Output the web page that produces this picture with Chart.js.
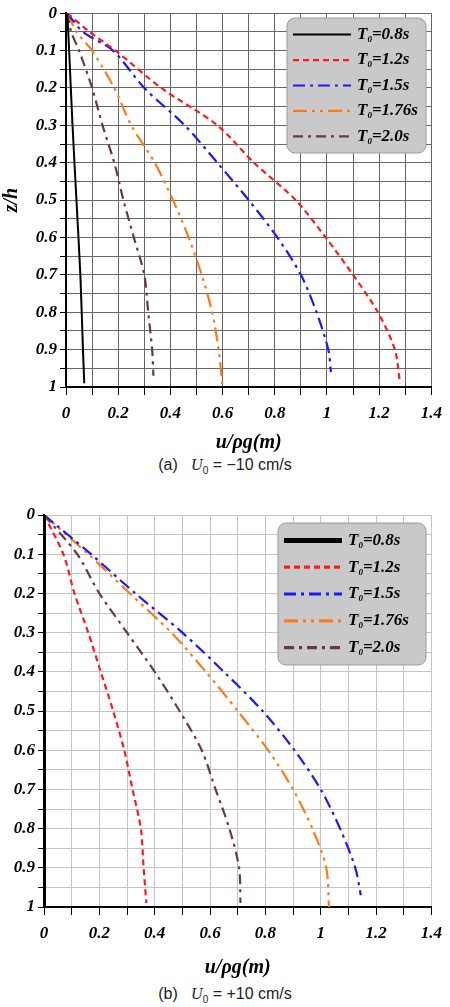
<!DOCTYPE html>
<html>
<head>
<meta charset="utf-8">
<script src="https://cdn.jsdelivr.net/npm/chart.js@4/dist/chart.umd.min.js"></script>
<style>
  body { margin: 0; background: #fff; width: 450px; height: 1007px; position: relative; overflow: hidden; }
  .wrap { position: absolute; left: 0; width: 450px; }
  .cap { position: absolute; left: 0; width: 450px; text-align: center; font: 16px "Liberation Sans", sans-serif; color: #222; }
  .cap i { font-family: "Liberation Serif", serif; }
  .cap sub { font-size: 10px; }
</style>
</head>
<body>
<div class="wrap" style="top:0;height:455px"><canvas id="c1"></canvas></div>
<div class="cap" style="top:456px">(a)&nbsp;&nbsp; <i>U</i><sub>0</sub> = &minus;10 cm/s</div>
<div class="wrap" style="top:490px;height:490px"><canvas id="c2"></canvas></div>
<div class="cap" style="top:985px">(b)&nbsp;&nbsp; <i>U</i><sub>0</sub> = +10 cm/s</div>
<script>
var periods = ["0.8s", "1.2s", "1.5s", "1.76s", "2.0s"];
var colors = ["#000000", "#ff1a1a", "#1a1aff", "#ff7a1a", "#6b3a3a"];
var dashes = [[], [6, 4], [12, 5, 3, 5], [14, 5, 3, 5, 3, 5], [10, 5, 3, 5]];
var xTicks = [0, 0.2, 0.4, 0.6, 0.8, 1, 1.2, 1.4];

// (a) U0 = -10 cm/s : depth z/h and u/rho g for each wave period
var zA = [
  [0, 0.1, 0.3, 0.5, 0.7, 0.9, 0.99],
  [0, 0.05, 0.1, 0.2, 0.3, 0.4, 0.5, 0.6, 0.7, 0.8, 0.9, 0.99],
  [0, 0.05, 0.1, 0.2, 0.3, 0.4, 0.5, 0.6, 0.7, 0.8, 0.9, 0.96],
  [0, 0.05, 0.1, 0.2, 0.3, 0.4, 0.5, 0.6, 0.7, 0.8, 0.9, 1.0],
  [0, 0.05, 0.1, 0.2, 0.3, 0.4, 0.5, 0.6, 0.7, 0.8, 0.9, 0.97]
];
var uA = [
  [0.005, 0.012, 0.025, 0.04, 0.055, 0.065, 0.07],
  [0.005, 0.09, 0.19, 0.365, 0.58, 0.72, 0.88, 0.995, 1.10, 1.195, 1.26, 1.28],
  [0.005, 0.065, 0.18, 0.30, 0.455, 0.58, 0.70, 0.81, 0.90, 0.96, 1.005, 1.015],
  [0.005, 0.04, 0.10, 0.185, 0.25, 0.34, 0.41, 0.47, 0.52, 0.56, 0.585, 0.60],
  [0.005, 0.02, 0.05, 0.10, 0.14, 0.185, 0.22, 0.26, 0.30, 0.315, 0.33, 0.335]
];

// (b) U0 = +10 cm/s
var zB = [
  [0, 1],
  [0, 0.1, 0.2, 0.3, 0.4, 0.5, 0.6, 0.7, 0.8, 0.9, 0.99],
  [0, 0.1, 0.2, 0.3, 0.4, 0.5, 0.6, 0.7, 0.8, 0.9, 0.97],
  [0, 0.1, 0.2, 0.3, 0.4, 0.5, 0.6, 0.7, 0.8, 0.9, 1.0],
  [0, 0.1, 0.2, 0.3, 0.4, 0.5, 0.6, 0.7, 0.8, 0.9, 0.99]
];
var uB = [
  [0, 0],
  [0, 0.07, 0.11, 0.16, 0.205, 0.25, 0.29, 0.32, 0.35, 0.36, 0.37],
  [0, 0.17, 0.33, 0.50, 0.65, 0.79, 0.905, 1.00, 1.07, 1.125, 1.145],
  [0, 0.16, 0.31, 0.46, 0.585, 0.70, 0.81, 0.90, 0.97, 1.02, 1.03],
  [0, 0.12, 0.20, 0.30, 0.40, 0.49, 0.57, 0.62, 0.67, 0.705, 0.71]
];

var serif = "'Liberation Serif', 'DejaVu Serif', serif";
var tickFont = { family: serif, size: 17, weight: "bold", style: "italic" };

function makeSets(zs, us, blackWidth) {
  return periods.map(function (p, i) {
    return {
      label: p,
      data: zs[i].map(function (z, k) { return { x: us[i][k], y: z }; }),
      showLine: true, pointRadius: 0, borderColor: colors[i],
      borderWidth: i === 0 ? blackWidth : 2.2, borderDash: dashes[i],
      tension: 0.3
    };
  });
}

function legendPlugin(box) {
  return {
    id: "boxLegend",
    afterDraw: function (chart) {
      var ctx = chart.ctx;
      ctx.save();
      ctx.fillStyle = "#c9c9c9";
      ctx.strokeStyle = "#9a9a9a";
      ctx.lineWidth = 1;
      ctx.beginPath();
      ctx.roundRect(box.x, box.y, box.w, box.h, 8);
      ctx.fill(); ctx.stroke();
      var step = box.h / 5.3;
      chart.data.datasets.forEach(function (ds, i) {
        var y = box.y + step * (i + 0.65);
        ctx.strokeStyle = ds.borderColor;
        ctx.lineWidth = ds.borderWidth + (box.bold ? 1 : 0);
        ctx.setLineDash(ds.borderDash);
        ctx.beginPath();
        ctx.moveTo(box.x + 6, y); ctx.lineTo(box.x + 64, y); ctx.stroke();
        ctx.setLineDash([]);
        ctx.fillStyle = "#000";
        ctx.textBaseline = "middle";
        ctx.font = "italic bold 17px " + serif;
        var tx = box.x + 70;
        ctx.fillText("T", tx, y);
        tx += ctx.measureText("T").width;
        ctx.font = "italic bold 9px " + serif;
        ctx.fillText("0", tx, y + 5);
        tx += ctx.measureText("0").width;
        ctx.font = "italic bold 17px " + serif;
        ctx.fillText("=" + ds.label, tx, y);
      });
      ctx.restore();
    }
  };
}

function makeChart(id, sets, opt) {
  return new Chart(document.getElementById(id), {
    type: "scatter",
    data: { datasets: sets },
    plugins: [legendPlugin(opt.box)],
    options: {
      responsive: true, maintainAspectRatio: false, animation: false,
      layout: { padding: { top: opt.top, right: 12 } },
      plugins: { legend: { display: false }, tooltip: { enabled: false } },
      scales: {
        x: {
          min: 0, max: 1.4,
          afterBuildTicks: function (s) {
            s.ticks = [0, 0.1, 0.2, 0.3, 0.4, 0.5, 0.6, 0.7, 0.8, 0.9, 1, 1.1, 1.2, 1.3, 1.4].map(function (v) { return { value: v }; });
          },
          ticks: {
            font: tickFont, color: "#000", maxRotation: 0, autoSkip: false, padding: 8,
            callback: function (v) {
              var r = Math.round(v * 10) / 10;
              return xTicks.indexOf(r) >= 0 ? String(r) : "";
            }
          },
          grid: { color: opt.grid, tickColor: "#000", tickLength: 8, lineWidth: 1 },
          border: { color: "#000", width: 2 },
          title: { display: true, text: "u/\u03c1g(m)", font: { family: serif, size: 20, weight: "bold", style: "italic" }, color: "#000", padding: 0 },
          afterFit: function (s) { s.height = opt.xh; }
        },
        y: {
          min: 0, max: 1, reverse: true,
          afterBuildTicks: function (s) {
            var t = [];
            for (var k = 0; k <= 20; k++) t.push({ value: k / 20 });
            s.ticks = t;
          },
          ticks: {
            font: tickFont, color: "#000", autoSkip: false,
            callback: function (v) {
              var k = Math.round(v * 20);
              return k % 2 === 0 ? String(k / 20) : "";
            }
          },
          grid: { color: opt.grid, tickColor: "#000", tickLength: 6, lineWidth: 1 },
          border: { color: "#000", width: 2 },
          title: { display: opt.ytitle, text: "z/h", font: { family: serif, size: 20, weight: "bold", style: "italic" }, color: "#000", padding: 0 },
          afterFit: function (s) { s.width = opt.yw; }
        }
      }
    }
  });
}

makeChart("c1", makeSets(zA, uA, 2), {
  top: 9, xh: 68, yw: 66, grid: "#666", ytitle: true,
  box: { x: 287, y: 18, w: 139, h: 135 }
});
makeChart("c2", makeSets(zB, uB, 4), {
  top: 25, xh: 73, yw: 44, grid: "#c4c4c4", ytitle: false,
  box: { x: 278, y: 33, w: 148, h: 142, bold: true }
});
</script>
</body>
</html>
